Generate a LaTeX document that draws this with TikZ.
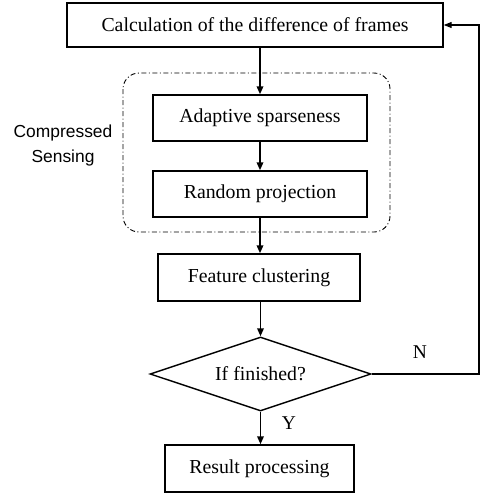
\documentclass[tikz,border=0pt]{standalone}
\usepackage{fontspec}
\setmainfont{Liberation Serif}
\newfontfamily\labelsans{Liberation Sans}
\usetikzlibrary{shapes.geometric,arrows.meta}
\begin{document}
\begin{tikzpicture}[x=1pt,y=-1pt,
  box/.style={draw,line width=1.4pt,inner sep=0pt,font=\fontsize{19.8}{22}\selectfont},
  arr/.style={line width=1.8pt,-{Triangle[length=8pt,width=6.5pt]}},
  lbl/.style={font=\fontsize{19.5}{22}\selectfont}]
\useasboundingbox (0,0) rectangle (489,498);
\node[box,minimum width=376pt,minimum height=44pt] (calc) at (255,25) {Calculation of the difference of frames};
\node[box,minimum width=214pt,minimum height=46pt] (adapt) at (260,118) {Adaptive sparseness};
\node[box,minimum width=214pt,minimum height=46pt] (rand) at (260,194) {Random projection};
\node[box,minimum width=202pt,minimum height=47pt] (feat) at (259,277.5) {Feature clustering};
\node[draw,line width=1.4pt,diamond,aspect=2.99,inner sep=0pt,minimum width=221pt,minimum height=74pt,font=\fontsize{19.8}{22}\selectfont] (fin) at (260.5,374) {If finished?};
\node[box,minimum width=189pt,minimum height=47pt] (res) at (259.5,468.5) {Result processing};
\draw[line width=0.9pt,dash pattern=on 5pt off 2.5pt on 1pt off 2.5pt,rounded corners=16pt] (123,73) rectangle (390,232);
\node[font=\labelsans\fontsize{17.4}{25}\selectfont,align=center] (cs) at (63,145) {Compressed\\Sensing};
\draw[arr] (calc.south -| 260,0) -- (adapt.north);
\draw[arr] (adapt) -- (rand);
\draw[arr] (rand.south) -- (rand.south |- feat.north);
\draw[arr] (feat.south -| fin.north) -- (fin.north);
\draw[arr] (fin.south) -- (fin.south |- res.north);
\coordinate (corner1) at (479,374);
\coordinate (corner2) at (479,25);
\draw[line width=1.1pt,-{Triangle[length=8pt,width=6pt]}] (fin.east) -- (corner1) -- (corner2) -- (calc.east);
\node[lbl] (n) at (420,352) {N};
\node[lbl] (y) at (289,423) {Y};
\end{tikzpicture}
\end{document}
